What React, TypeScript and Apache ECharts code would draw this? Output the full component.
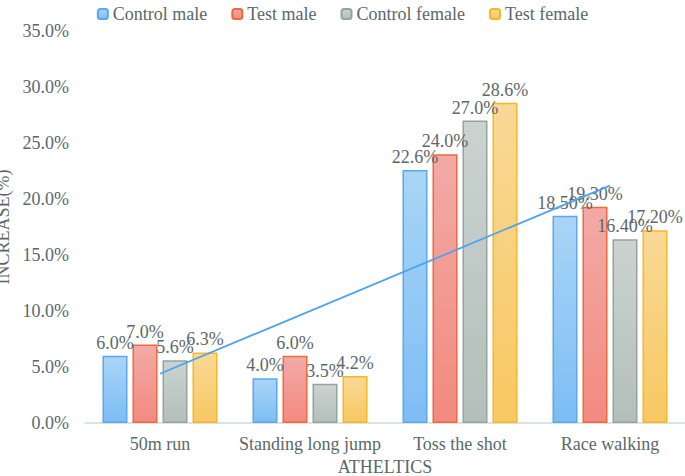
import React, { useEffect, useRef } from "react";
import * as echarts from "echarts";

const categories = ["50m run", "Standing long jump", "Toss the shot", "Race walking"];
const controlMale = [6.0, 4.0, 22.6, 18.5];
const testMale = [7.0, 6.0, 24.0, 19.3];
const controlFemale = [5.6, 3.5, 27.0, 16.4];
const testFemale = [6.3, 4.2, 28.6, 17.2];
// label decimals per category as printed in the chart
const labelDecimals = [1, 1, 1, 2];
// trend line ends, at first and last category
const trendEnds = [4.4, 21.2];

const TEXT = "#5a6868";
const FONT = "Liberation Serif";

function grad(top: string, bottom: string) {
  return new echarts.graphic.LinearGradient(0, 0, 0, 1, [
    { offset: 0, color: top },
    { offset: 1, color: bottom },
  ]);
}

const seriesDefs = [
  { name: "Control male", data: controlMale, top: "#a9d5f6", bottom: "#7dbdf5", border: "#5aa8ee" },
  { name: "Test male", data: testMale, top: "#f2aaa6", bottom: "#f28a80", border: "#f0683c" },
  { name: "Control female", data: controlFemale, top: "#cad3cf", bottom: "#b3bfbb", border: "#97a39f" },
  { name: "Test female", data: testFemale, top: "#f8d996", bottom: "#f8c862", border: "#f7b52a" },
];

export default function App() {
  const ref = useRef<HTMLDivElement>(null);
  useEffect(() => {
    if (!ref.current) return;
    const chart = echarts.init(ref.current, undefined, { renderer: "svg" });
    const bars = seriesDefs.map((s) => ({
      name: s.name,
      type: "bar",
      data: s.data,
      barWidth: 25,
      barGap: "20%",
      itemStyle: {
        color: grad(s.top, s.bottom),
        borderColor: s.border,
        borderWidth: 1.5,
      },
      label: {
        show: true,
        position: "top",
        distance: 4,
        color: TEXT,
        fontFamily: FONT,
        fontSize: 18,
        formatter: (p: any) => p.value.toFixed(labelDecimals[p.dataIndex]) + "%",
      },
    }));
    const trendData = categories.map((_, i) =>
      i === 0 ? trendEnds[0] : i === categories.length - 1 ? trendEnds[1] : "-"
    );
    chart.setOption({
      animation: false,
      textStyle: { fontFamily: FONT },
      legend: {
        data: seriesDefs.map((s) => s.name),
        top: 0,
        left: "center",
        itemWidth: 10,
        itemHeight: 10,
        itemGap: 24,
        textStyle: { color: TEXT, fontFamily: FONT, fontSize: 18 },
      },
      grid: { left: 85, right: 0, top: 31, bottom: 53, outerBoundsMode: "none" },
      xAxis: {
        type: "category",
        data: categories,
        name: "ATHELTICS",
        nameLocation: "middle",
        nameGap: 34,
        nameTextStyle: { color: TEXT, fontFamily: FONT, fontSize: 18 },
        axisLine: { lineStyle: { color: "#d2dada", width: 1.5 } },
        axisTick: { show: false },
        axisLabel: { color: TEXT, fontFamily: FONT, fontSize: 18, margin: 12, interval: 0 },
      },
      yAxis: {
        type: "value",
        min: 0,
        max: 35,
        interval: 5,
        name: "INCREASE(%)",
        nameLocation: "middle",
        nameGap: 65,
        nameTextStyle: { color: TEXT, fontFamily: FONT, fontSize: 18 },
        axisLine: { show: false },
        axisTick: { show: false },
        splitLine: { show: false },
        axisLabel: {
          color: TEXT,
          fontFamily: FONT,
          fontSize: 18,
          margin: 16,
          formatter: (v: number) => v.toFixed(1) + "%",
        },
      },
      series: [
        ...bars,
        {
          name: "Trend",
          type: "line",
          data: trendData,
          connectNulls: true,
          symbol: "none",
          z: 5,
          lineStyle: { color: "#4da3ef", width: 1.8 },
          label: { show: false },
        },
      ],
    });
    return () => chart.dispose();
  }, []);
  return (
    <div style={{ position: "absolute", left: 0, top: 0, width: 685, height: 476 }}>
      <div ref={ref} style={{ width: 685, height: 476 }} />
    </div>
  );
}
